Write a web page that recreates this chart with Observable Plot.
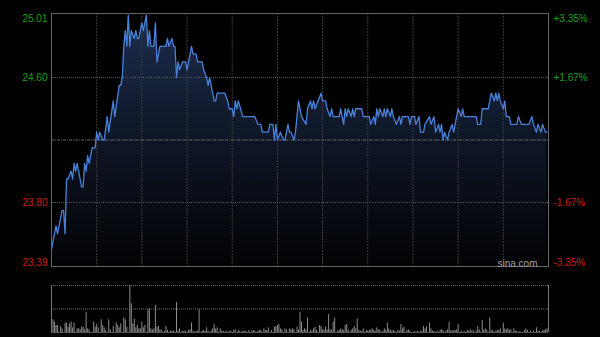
<!DOCTYPE html>
<html>
<head>
<meta charset="utf-8">
<script src="https://cdn.jsdelivr.net/npm/d3@7"></script>
<script src="https://cdn.jsdelivr.net/npm/@observablehq/plot@0.6"></script>
<style>
  html, body { margin: 0; padding: 0; background: #000; }
  #chart svg { display: block; }
</style>
</head>
<body>
<div id="chart"></div>
<script>
// ---- data ----
// intraday minutes from open (HK session, 330 trading minutes)
const priceMinute = [0,3,4,7,8,9,10,11,13,14,15,16,17,20,21,22,23,24,25,27,29,30,31,32,34,35,37,38,41,42,45,46,47,48,49,50,51,52,53,55,56,57,58,60,61,62,63,64,65,66,68,69,70,72,76,77,78,80,81,82,83,84,85,87,89,90,91,93,94,96,97,100,101,103,104,105,107,108,109,110,115,117,118,120,121,122,123,124,127,135,137,139,140,144,145,147,148,149,150,152,154,155,157,158,159,161,162,163,164,165,166,169,170,172,173,174,175,177,179,180,182,183,185,186,187,191,192,194,195,196,197,199,200,201,202,206,207,211,212,214,215,216,217,218,220,221,222,223,225,226,227,229,231,232,233,237,238,239,241,242,244,245,247,248,251,252,254,255,257,258,259,260,261,263,264,266,267,269,270,272,273,274,282,283,285,286,290,292,294,295,296,297,298,300,301,302,304,305,309,310,312,317,319,320,322,323,325,326,328,329];
const priceValue = [23.50,23.65,23.60,23.75,23.75,23.60,23.95,23.95,24.00,23.95,24.05,24.00,24.05,23.90,23.90,24.05,24.00,24.10,24.05,24.15,24.15,24.25,24.20,24.25,24.20,24.20,24.35,24.25,24.45,24.35,24.55,24.55,24.60,24.80,24.90,24.80,25.00,24.80,24.90,24.85,24.90,24.85,24.85,24.95,24.90,24.95,25.00,24.80,24.90,24.80,24.80,24.95,24.70,24.80,24.80,24.85,24.80,24.85,24.80,24.80,24.60,24.70,24.65,24.70,24.70,24.65,24.70,24.80,24.75,24.75,24.70,24.70,24.65,24.60,24.55,24.60,24.50,24.45,24.45,24.50,24.50,24.45,24.40,24.40,24.35,24.45,24.40,24.45,24.35,24.35,24.30,24.30,24.25,24.25,24.30,24.30,24.20,24.30,24.20,24.25,24.20,24.20,24.30,24.25,24.25,24.20,24.25,24.35,24.45,24.40,24.35,24.30,24.40,24.45,24.40,24.45,24.40,24.45,24.50,24.45,24.45,24.40,24.35,24.40,24.35,24.35,24.40,24.30,24.40,24.35,24.40,24.35,24.40,24.35,24.40,24.40,24.35,24.35,24.30,24.35,24.30,24.40,24.35,24.40,24.35,24.40,24.35,24.40,24.35,24.40,24.35,24.30,24.35,24.30,24.35,24.35,24.30,24.35,24.35,24.30,24.35,24.25,24.25,24.30,24.35,24.30,24.35,24.25,24.30,24.25,24.30,24.20,24.25,24.20,24.25,24.30,24.25,24.35,24.40,24.35,24.40,24.35,24.35,24.30,24.30,24.40,24.40,24.50,24.45,24.50,24.45,24.50,24.45,24.40,24.45,24.35,24.35,24.30,24.30,24.35,24.30,24.30,24.35,24.30,24.25,24.30,24.25,24.30,24.25,24.25];

const volMinute = [0,1,2,3,4,6,7,9,10,11,12,13,14,15,17,18,19,20,21,22,23,24,25,28,29,30,31,33,34,35,36,38,39,41,43,44,45,46,48,49,50,52,53,54,55,56,57,58,59,60,61,62,64,65,66,67,68,69,70,71,72,73,75,76,77,79,80,81,83,84,85,87,88,89,91,92,93,94,96,97,98,100,101,102,103,104,106,107,108,109,110,112,113,114,116,118,119,121,122,124,125,127,128,129,131,133,134,135,137,138,139,141,142,143,144,146,148,149,150,151,152,153,155,156,158,159,160,161,163,164,165,166,167,168,169,170,172,173,174,175,176,178,179,180,181,182,183,184,185,186,187,188,190,191,192,193,194,195,196,197,199,200,201,202,203,204,205,206,207,209,210,211,212,213,214,215,216,217,218,220,221,222,223,224,225,226,227,228,230,231,232,233,234,236,237,238,241,243,245,246,247,248,249,251,252,253,254,256,258,259,260,262,263,264,265,266,267,268,269,270,272,274,276,277,278,279,280,282,283,284,286,287,288,289,291,292,293,295,296,297,298,300,301,302,303,304,305,307,308,309,311,314,315,316,318,320,322,323,324,326,327,328,329];
const volValue = [56,38,31,21,21,18,11,28,28,16,26,31,14,28,11,11,8,16,16,8,61,11,8,31,16,24,14,38,21,14,6,38,8,18,29,21,14,26,44,38,16,141,86,26,41,14,21,11,11,31,14,21,68,71,11,8,11,81,16,18,8,6,4,18,6,4,3,4,90,4,11,3,4,4,6,8,29,4,3,4,68,4,6,3,14,3,4,11,24,11,14,11,3,4,4,3,4,6,8,6,3,4,3,4,6,4,6,4,4,6,6,11,6,6,14,6,16,18,21,24,11,8,11,8,11,8,11,8,16,8,61,31,6,11,8,44,6,4,11,16,6,21,18,8,6,16,8,54,8,6,31,44,4,6,11,8,6,21,24,8,6,11,18,11,41,6,4,3,11,6,4,6,8,11,6,4,14,8,6,4,11,6,28,11,6,4,6,3,6,4,24,11,16,6,8,4,3,3,3,4,18,11,16,28,11,4,3,4,6,8,6,4,8,31,4,6,4,6,8,24,4,3,6,4,8,3,6,4,18,8,36,6,11,6,44,4,6,4,6,6,11,28,11,8,11,6,8,11,4,3,3,6,11,6,4,4,14,4,3,4,6,8,11];

const priceTicks = [25.01, 24.60, 23.80, 23.39];
const pctLabels = ["+3.35%", "+1.67%", "-1.67%", "-3.35%"];
const prevClose = 24.20;
const timeGrid = [30, 60, 90, 120, 150, 180, 210, 240, 270, 300];
const sessionMinutes = 330;

// ---- build ----
const prices = priceMinute.map((m, i) => ({m, p: priceValue[i]}));
const vols = volMinute.map((m, i) => ({m, v: volValue[i]}));
const labels = priceTicks.map((v, i) => ({v, pct: pctLabels[i]}));
const yMin = d3.min(priceTicks), yMax = d3.max(priceTicks);
const vMax = d3.max(volValue);

const GREEN = "#18a018", RED = "#d01a1a";
const font = "'Liberation Sans', Arial, sans-serif";

function labelMarks(filter, lineAnchor, dy) {
  const sel = labels.filter(filter);
  return [
    Plot.text(sel.filter(d => d.v >= prevClose), {y: "v", text: d => d.v.toFixed(2), frameAnchor: "left", textAnchor: "end", dx: -4, dy, lineAnchor, fill: GREEN}),
    Plot.text(sel.filter(d => d.v < prevClose), {y: "v", text: d => d.v.toFixed(2), frameAnchor: "left", textAnchor: "end", dx: -4, dy, lineAnchor, fill: RED}),
    Plot.text(sel.filter(d => d.v >= prevClose), {y: "v", text: "pct", frameAnchor: "right", textAnchor: "start", dx: 5, dy, lineAnchor, fill: GREEN}),
    Plot.text(sel.filter(d => d.v < prevClose), {y: "v", text: "pct", frameAnchor: "right", textAnchor: "start", dx: 5, dy, lineAnchor, fill: RED})
  ];
}

const priceChart = Plot.plot({
  width: 600, height: 270,
  marginLeft: 51, marginRight: 52, marginTop: 13, marginBottom: 4,
  x: {domain: [0, sessionMinutes], axis: null},
  y: {domain: [yMin, yMax], axis: null},
  style: {background: "#000", fontFamily: font, fontSize: "10px"},
  marks: [
    Plot.areaY(prices, {x: "m", y1: yMin, y2: "p", fill: "url(#areaGrad)", curve: "linear"}),
    Plot.ruleX(timeGrid, {stroke: "#3a3a3a", strokeDasharray: "2,1"}),
    Plot.ruleY(priceTicks.filter(v => v !== yMin && v !== yMax), {stroke: "#5a5a5a", strokeDasharray: "1,1"}),
    Plot.ruleY([prevClose], {stroke: "#6a6a6a", strokeDasharray: "3,1,1,1"}),
    Plot.line(prices, {x: "m", y: "p", stroke: "#4a80d8", strokeWidth: 1.3}),
    Plot.frame({stroke: "#666"}),
    ...labelMarks(d => d.v === yMax, "top", 1),
    ...labelMarks(d => d.v !== yMax && d.v !== yMin, "middle", 0),
    ...labelMarks(d => d.v === yMin, "bottom", -1),
    Plot.text(["sina.com"], {text: d => d, frameAnchor: "bottom-right", textAnchor: "end", lineAnchor: "bottom", dx: -11, dy: 0, fill: "#a0a0a0", fontSize: 10})
  ]
});

// gradient for the area
const svg = d3.select(priceChart);
const grad = svg.insert("defs", ":first-child").append("linearGradient")
  .attr("id", "areaGrad").attr("x1", 0).attr("y1", 0).attr("x2", 0).attr("y2", 1);
grad.append("stop").attr("offset", "0%").attr("stop-color", "#1c2d4e");
grad.append("stop").attr("offset", "55%").attr("stop-color", "#0d1422");
grad.append("stop").attr("offset", "100%").attr("stop-color", "#020305");

const volChart = Plot.plot({
  width: 600, height: 67,
  marginLeft: 51, marginRight: 52, marginTop: 15, marginBottom: 5,
  x: {domain: [0, sessionMinutes], axis: null},
  y: {domain: [0, vMax], axis: null},
  style: {background: "#000", fontFamily: font, fontSize: "10px"},
  marks: [
    Plot.ruleY([vMax, vMax / 2], {stroke: "#666", strokeDasharray: "1,1"}),
    Plot.ruleY([0], {stroke: "#555"}),
    Plot.ruleX(vols, {x: "m", y1: 0, y2: "v", stroke: "#8c8c8c", strokeWidth: 1}),
    Plot.ruleX([0, sessionMinutes], {stroke: "#777"})
  ]
});

const root = document.getElementById("chart");
root.appendChild(priceChart);
root.appendChild(volChart);
</script>
</body>
</html>
